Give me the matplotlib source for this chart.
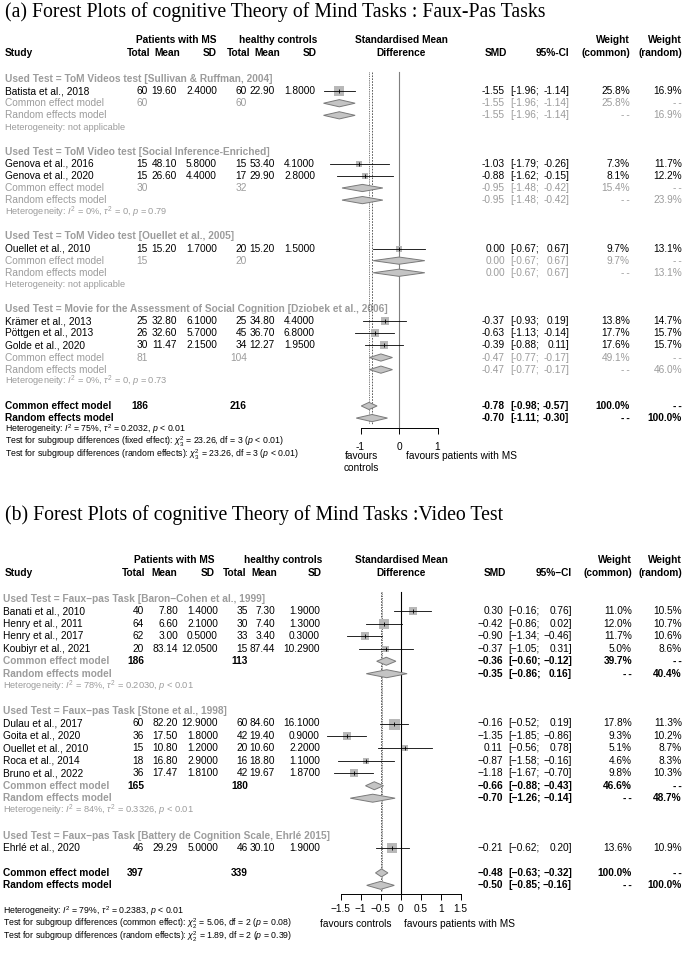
import numpy as np
import matplotlib
matplotlib.use("Agg")
import matplotlib.pyplot as plt
from matplotlib.patches import Polygon

plt.rcParams['font.family'] = ['Liberation Sans', 'DejaVu Sans']
plt.rcParams['mathtext.fontset'] = 'custom'
plt.rcParams['mathtext.rm'] = 'Liberation Sans'
plt.rcParams['mathtext.it'] = 'Liberation Sans:italic'
plt.rcParams['mathtext.bf'] = 'Liberation Sans:bold'

# ---------------- panel (a) data ----------------
a_title = "(a) Forest Plots of cognitive Theory of Mind Tasks : Faux-Pas Tasks"
a_groups = ["Used Test = ToM Videos test [Sullivan & Ruffman, 2004]",
            "Used Test = ToM Video test [Social Inference-Enriched]",
            "Used Test = ToM Video test [Ouellet et al., 2005]",
            "Used Test = Movie for the Assessment of Social Cognition [Dziobek et al., 2006]"]
a_study = ["Batista et al., 2018", "Genova et al., 2016", "Genova et al., 2020",
           "Ouellet et al., 2010", "Krämer et al., 2013", "Pöttgen et al., 2013",
           "Golde et al., 2020"]
a_gidx = [0, 1, 1, 2, 3, 3, 3]
a_n1 = [60, 15, 15, 15, 25, 26, 30]
a_m1 = [19.60, 48.10, 26.60, 15.20, 32.80, 32.60, 11.47]
a_sd1 = [2.4, 5.8, 4.4, 1.7, 6.1, 5.7, 2.15]
a_n2 = [60, 15, 17, 20, 25, 45, 34]
a_m2 = [22.90, 53.40, 29.90, 15.20, 34.80, 36.70, 12.27]
a_sd2 = [1.8, 4.1, 2.8, 1.5, 4.4, 6.8, 1.95]
a_smd = [-1.55, -1.03, -0.88, 0.00, -0.37, -0.63, -0.39]
a_lo = [-1.96, -1.79, -1.62, -0.67, -0.93, -1.13, -0.88]
a_hi = [-1.14, -0.26, -0.15, 0.67, 0.19, -0.14, 0.11]
a_wc = [25.8, 7.3, 8.1, 9.7, 13.8, 17.7, 17.6]
a_wr = [16.9, 11.7, 12.2, 13.1, 14.7, 15.7, 15.7]
# subgroup summaries
a_gn1 = [60, 30, 15, 81]
a_gn2 = [60, 32, 20, 104]
a_gc = [(-1.55, -1.96, -1.14), (-0.95, -1.48, -0.42), (0.00, -0.67, 0.67), (-0.47, -0.77, -0.17)]
a_gr = [(-1.55, -1.96, -1.14), (-0.95, -1.48, -0.42), (0.00, -0.67, 0.67), (-0.47, -0.77, -0.17)]
a_gwc = [25.8, 15.4, 9.7, 49.1]
a_gwr = [16.9, 23.9, 13.1, 46.0]
a_ghet = ["Heterogeneity: not applicable",
          r"Heterogeneity: $I^2$ = 0%, $\tau^2$ = 0, $p$ = 0.79",
          "Heterogeneity: not applicable",
          r"Heterogeneity: $I^2$ = 0%, $\tau^2$ = 0, $p$ = 0.73"]
a_tot = (186, 216)
a_oc = (-0.78, -0.98, -0.57)
a_or = (-0.70, -1.11, -0.30)
a_foot = [r"Heterogeneity: $I^2$ = 75%, $\tau^2$ = 0.2032, $p$ < 0.01",
          r"Test for subgroup differences (fixed effect): $\chi^2_3$ = 23.26, df = 3 ($p$ < 0.01)",
          r"Test for subgroup differences (random effects): $\chi^2_3$ = 23.26, df = 3 ($p$ < 0.01)"]
a_ticks = [-1, 0, 1]
a_ticklabels = ["-1", "0", "1"]

# ---------------- panel (b) data ----------------
b_title = "(b) Forest Plots of cognitive Theory of Mind Tasks :Video Test"
b_groups = ["Used Test = Faux\u2212pas Task [Baron\u2212Cohen et al., 1999]",
            "Used Test = Faux\u2212pas Task [Stone et al., 1998]",
            "Used Test = Faux\u2212pas Task [Battery de Cognition Scale, Ehrlé 2015]"]
b_study = ["Banati et al., 2010", "Henry et al., 2011", "Henry et al., 2017",
           "Koubiyr et al., 2021", "Dulau et al., 2017", "Goita et al., 2020",
           "Ouellet et al., 2010", "Roca et al., 2014", "Bruno et al., 2022",
           "Ehrlé et al., 2020"]
b_gidx = [0, 0, 0, 0, 1, 1, 1, 1, 1, 2]
b_n1 = [40, 64, 62, 20, 60, 36, 15, 18, 36, 46]
b_m1 = [7.80, 6.60, 3.00, 83.14, 82.20, 17.50, 10.80, 16.80, 17.47, 29.29]
b_sd1 = [1.4, 2.1, 0.5, 12.05, 12.9, 1.8, 1.2, 2.9, 1.81, 5.0]
b_n2 = [35, 30, 33, 15, 60, 42, 20, 16, 42, 46]
b_m2 = [7.30, 7.40, 3.40, 87.44, 84.60, 19.40, 10.60, 18.80, 19.67, 30.10]
b_sd2 = [1.9, 1.3, 0.3, 10.29, 16.1, 0.9, 2.2, 1.1, 1.87, 1.9]
b_smd = [0.30, -0.42, -0.90, -0.37, -0.16, -1.35, 0.11, -0.87, -1.18, -0.21]
b_lo = [-0.16, -0.86, -1.34, -1.05, -0.52, -1.85, -0.56, -1.58, -1.67, -0.62]
b_hi = [0.76, 0.02, -0.46, 0.31, 0.19, -0.86, 0.78, -0.16, -0.70, 0.20]
b_wc = [11.0, 12.0, 11.7, 5.0, 17.8, 9.3, 5.1, 4.6, 9.8, 13.6]
b_wr = [10.5, 10.7, 10.6, 8.6, 11.3, 10.2, 8.7, 8.3, 10.3, 10.9]
b_gn1 = [186, 165, None]
b_gn2 = [113, 180, None]
b_gc = [(-0.36, -0.60, -0.12), (-0.66, -0.88, -0.43), None]
b_gr = [(-0.35, -0.86, 0.16), (-0.70, -1.26, -0.14), None]
b_gwc = [39.7, 46.6, None]
b_gwr = [40.4, 48.7, None]
b_ghet = [r"Heterogeneity: $I^2$ = 78%, $\tau^2$ = 0.2030, $p$ < 0.01",
          r"Heterogeneity: $I^2$ = 84%, $\tau^2$ = 0.3326, $p$ < 0.01", None]
b_tot = (397, 339)
b_oc = (-0.48, -0.63, -0.32)
b_or = (-0.50, -0.85, -0.16)
b_foot = [r"Heterogeneity: $I^2$ = 79%, $\tau^2$ = 0.2383, $p$ < 0.01",
          r"Test for subgroup differences (common effect): $\chi^2_2$ = 5.06, df = 2 ($p$ = 0.08)",
          r"Test for subgroup differences (random effects): $\chi^2_2$ = 1.89, df = 2 ($p$ = 0.39)"]
b_ticks = [-1.5, -1, -0.5, 0, 0.5, 1, 1.5]
b_ticklabels = ["\u22121.5", "\u22121", "\u22120.5", "0", "0.5", "1", "1.5"]

FS = 7.3
FS_SMALL = 6.7
FS_FOOT = 6.3
GRAY = '#9c9c9c'
SQ = '#b8b8b8'
DIA = '#c4c4c4'
NA = "-\u2009-"

fig = plt.figure(figsize=(6.85, 9.57), dpi=100)
txt = fig.add_axes([0, 0, 1, 1])
txt.set_xlim(0, 685)
txt.set_ylim(957, 0)
txt.axis('off')


def put(x, y, s, ha='left', color='black', bold=False, size=FS):
    txt.text(x, y, s, ha=ha, va='center', color=color, fontsize=size,
             fontweight='bold' if bold else 'normal')


def fmt(v, minus):
    return f"{v:.2f}".replace('-', minus)


def draw_panel(L, title, groups, study, gidx, n1, m1, sd1, n2, m2, sd2,
               smd, lo, hi, wc, wr, gn1, gn2, gc, gr, gwc, gwr, ghet,
               tot, oc, orr, foot, ticks, ticklabels):
    mn = L['minus']
    txt.text(5, L['title_y'], title, ha='left', va='center', fontsize=14.2,
             family=['Liberation Serif'])
    # headers
    put(L['hdr_r'][2], L['h1'], "Patients with MS", ha='right', bold=True)
    put(L['hdr_r'][5], L['h1'], "healthy controls", ha='right', bold=True)
    put(L['smd_c'], L['h1'], "Standardised Mean", ha='center', bold=True)
    put(L['wc_r'], L['h1'], "Weight", ha='right', bold=True)
    put(L['wr_r'], L['h1'], "Weight", ha='right', bold=True)
    put(5, L['h2'], "Study", bold=True)
    for x, s in zip(L['hdr_r'], ["Total", "Mean", "SD", "Total", "Mean", "SD"]):
        put(x, L['h2'], s, ha='right', bold=True)
    put(L['smd_c'], L['h2'], "Difference", ha='center', bold=True)
    put(L['smd_hr'], L['h2'], "SMD", ha='right', bold=True)
    put(L['ci_r'], L['h2'], "95%" + mn + "CI", ha='right', bold=True)
    put(L['wc_r'], L['h2'], "(common)", ha='right', bold=True)
    put(L['wr_r'], L['h2'], "(random)", ha='right', bold=True)

    ax = fig.add_axes([0, 0, 1, 1], facecolor='none')
    ax.set_xlim(-L['zero'] / L['ppu'], (685 - L['zero']) / L['ppu'])
    ax.set_ylim(957, 0)
    wmax = max(wc)

    def row_y(i):
        return L['y0'] + i * L['step']

    def stats(y, est, a, b, w1, w2, color, bold):
        put(L['smd_r'], y, fmt(est, mn), ha='right', color=color, bold=bold)
        put(L['ci_l'], y, "[" + fmt(a, mn) + ";", color=color, bold=bold)
        put(L['ci_r'], y, fmt(b, mn) + "]", ha='right', color=color, bold=bold)
        put(L['wc_r'], y, w1, ha='right', color=color, bold=bold)
        put(L['wr_r'], y, w2, ha='right', color=color, bold=bold)

    def diamond(y, est, a, b):
        h = L['dh']
        ax.add_patch(Polygon([(a, y), (est, y - h), (b, y), (est, y + h)],
                             closed=True, fc=DIA, ec='#7a7a7a', lw=0.7, zorder=4))

    r = 0
    for g, glab in enumerate(groups):
        put(L['sx'], row_y(r), glab, color=GRAY, bold=True)
        r += 1
        for i in [k for k in range(len(study)) if gidx[k] == g]:
            y = row_y(r)
            put(L['sx'], y, study[i])
            vals = [f"{n1[i]}", f"{m1[i]:.2f}", f"{sd1[i]:.4f}",
                    f"{n2[i]}", f"{m2[i]:.2f}", f"{sd2[i]:.4f}"]
            for x, s in zip(L['num_r'], vals):
                put(x, y, s, ha='right')
            stats(y, smd[i], lo[i], hi[i], f"{wc[i]:.1f}%", f"{wr[i]:.1f}%", 'black', False)
            side = L['sqmax'] * np.sqrt(wc[i] / wmax) * 0.72
            ax.scatter([smd[i]], [y], s=side ** 2, marker='s', color=SQ, lw=0, zorder=3)
            ax.plot([lo[i], hi[i]], [y, y], color='black', lw=0.6, zorder=5)
            ax.plot([smd[i]], [y], marker='|', ms=2.5, mew=0.6, color='black', zorder=6)
            r += 1
        if gc[g] is not None:
            y = row_y(r)
            put(L['sx'], y, "Common effect model", color=GRAY, bold=L['gbold'])
            put(L['num_r'][0], y, f"{gn1[g]}", ha='right', color=L['scol'], bold=L['sbold'])
            put(L['num_r'][3], y, f"{gn2[g]}", ha='right', color=L['scol'], bold=L['sbold'])
            stats(y, *gc[g], f"{gwc[g]:.1f}%", NA, L['scol'], L['sbold'])
            diamond(y, *gc[g])
            r += 1
            y = row_y(r)
            put(L['sx'], y, "Random effects model", color=GRAY, bold=L['gbold'])
            stats(y, *gr[g], NA, f"{gwr[g]:.1f}%", L['scol'], L['sbold'])
            diamond(y, *gr[g])
            r += 1
            txt.text(L['sx'], row_y(r), ghet[g], ha='left', va='center',
                     color=GRAY, fontsize=FS_SMALL)
            r += 1
        r += 1

    # overall
    y = row_y(r)
    put(L['sx'], y, "Common effect model", bold=True)
    put(L['num_r'][0], y, f"{tot[0]}", ha='right', bold=True)
    put(L['num_r'][3], y, f"{tot[1]}", ha='right', bold=True)
    stats(y, *oc, "100.0%", NA, 'black', True)
    diamond(y, *oc)
    r += 1
    y = row_y(r)
    put(L['sx'], y, "Random effects model", bold=True)
    stats(y, *orr, NA, "100.0%", 'black', True)
    diamond(y, *orr)
    y_r = y

    for fy, s in zip(L['foot_y'], foot):
        txt.text(L['sx'], fy, s, ha='left', va='center', fontsize=FS_FOOT)

    # reference lines
    ax.plot([0, 0], [L['top'], L['axis_y']], color=L['zcol'], lw=0.8, zorder=2)
    ax.plot([oc[0], oc[0]], [L['top'], y_r + 6], color='#444444', lw=0.6, ls=(0, (1, 1.2)), zorder=2)
    ax.plot([orr[0], orr[0]], [L['top'], y_r + 6], color='#444444', lw=0.6, ls=(0, (2, 1.5)), zorder=2)

    # x axis
    for s in ['top', 'left', 'right']:
        ax.spines[s].set_visible(False)
    ax.spines['bottom'].set_position(('data', L['axis_y']))
    ax.spines['bottom'].set_bounds(ticks[0], ticks[-1])
    ax.spines['bottom'].set_linewidth(0.7)
    ax.set_xticks(ticks, labels=ticklabels)
    ax.set_yticks([])
    ax.tick_params(axis='x', direction='out', length=4, width=0.7,
                   labelsize=FS, pad=L['pad'])
    for (x, yy, s, ha) in L['fav']:
        ax.text(x, yy, s, ha=ha, va='center', fontsize=FS)


La = dict(minus='-', title_y=12, h1=40, h2=53, y0=79, step=12.11, sx=5,
          num_r=[148, 177, 217, 247, 275, 315], hdr_r=[150, 180, 217, 250, 280, 317],
          smd_c=401, smd_r=505, smd_hr=507, ci_l=510, ci_r=569,
          wc_r=630, wr_r=682, zero=399, ppu=38.5, dh=3.6, sqmax=10,
          gbold=False, scol=GRAY, sbold=False, zcol='#7f7f7f',
          top=72, axis_y=428, pad=6,
          foot_y=[429, 442, 455],
          fav=[(-0.97, 456, "favours", 'center'), (-0.97, 468, "controls", 'center'),
               (0.18, 456, "favours patients with MS", 'left')])

Lb = dict(minus='\u2212', title_y=515, h1=560, h2=573, y0=599, step=12.45, sx=3,
          num_r=[144, 178, 218, 248, 275, 320], hdr_r=[145, 177, 215, 246, 277, 322],
          smd_c=401, smd_r=503, smd_hr=506, ci_l=508, ci_r=572,
          wc_r=632, wr_r=682, zero=400.7, ppu=40, dh=4, sqmax=11,
          gbold=True, scol='black', sbold=True, zcol='black',
          top=592, axis_y=894, pad=3,
          foot_y=[911, 924, 937],
          fav=[(-0.22, 924, "favours controls", 'right'),
               (0.08, 924, "favours patients with MS", 'left')])

draw_panel(La, a_title, a_groups, a_study, a_gidx, a_n1, a_m1, a_sd1, a_n2, a_m2, a_sd2,
           a_smd, a_lo, a_hi, a_wc, a_wr, a_gn1, a_gn2, a_gc, a_gr, a_gwc, a_gwr, a_ghet,
           a_tot, a_oc, a_or, a_foot, a_ticks, a_ticklabels)
draw_panel(Lb, b_title, b_groups, b_study, b_gidx, b_n1, b_m1, b_sd1, b_n2, b_m2, b_sd2,
           b_smd, b_lo, b_hi, b_wc, b_wr, b_gn1, b_gn2, b_gc, b_gr, b_gwc, b_gwr, b_ghet,
           b_tot, b_oc, b_or, b_foot, b_ticks, b_ticklabels)

fig.savefig("out.png", dpi=100)
